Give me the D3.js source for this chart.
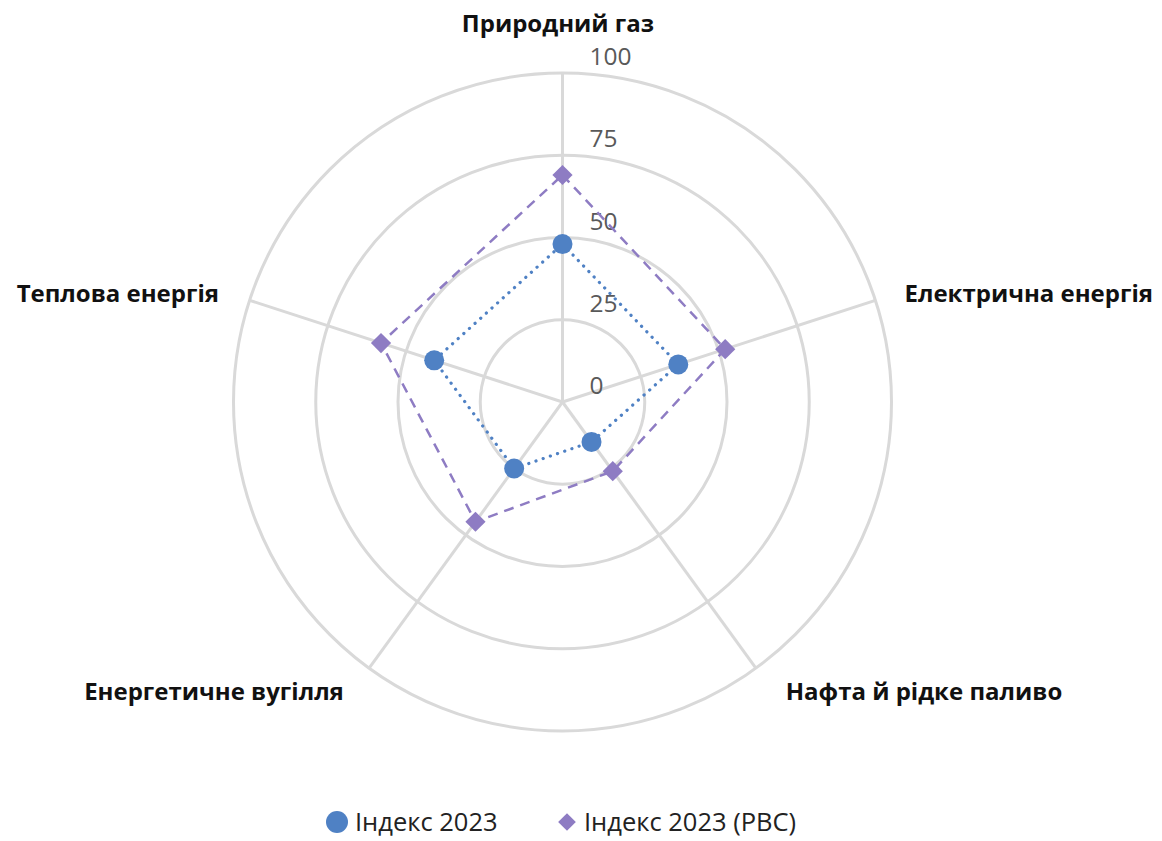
<!DOCTYPE html>
<html>
<head>
<meta charset="utf-8">
<script src="https://cdn.jsdelivr.net/npm/d3@7"></script>
<style>
  body { margin: 0; background: #fff; }
  svg { display: block; font-family: "Open Sans", "Noto Sans", sans-serif; }
</style>
</head>
<body>
<svg id="chart" width="1162" height="841"></svg>
<script>
// categories, clockwise from top
const categories = ["Природний газ", "Електрична енергія", "Нафта й рідке паливо", "Енергетичне вугілля", "Теплова енергія"];
const index2023 = [48, 37, 15, 25, 41];
const index2023rvs = [69, 52, 26, 45, 58];
const ticks = [0, 25, 50, 75, 100];
const seriesNames = ["Індекс 2023", "Індекс 2023 (РВС)"];

const svg = d3.select("#chart");
const cx = 562.5, cy = 402, R = 329;

const r = d3.scaleLinear().domain([0, 100]).range([0, R]);
const angle = d3.scaleLinear().domain([0, categories.length]).range([0, 2 * Math.PI]);
const pt = (i, v) => [cx + r(v) * Math.sin(angle(i)), cy - r(v) * Math.cos(angle(i))];

const grid = svg.append("g");
grid.selectAll("circle")
  .data(ticks.filter(t => t > 0))
  .enter().append("circle")
  .attr("cx", cx).attr("cy", cy)
  .attr("r", d => r(d))
  .attr("fill", "none").attr("stroke", "#d9d9d9").attr("stroke-width", 3);

grid.selectAll("line")
  .data(categories)
  .enter().append("line")
  .attr("x1", cx).attr("y1", cy)
  .attr("x2", (d, i) => pt(i, 100)[0])
  .attr("y2", (d, i) => pt(i, 100)[1])
  .attr("stroke", "#d9d9d9").attr("stroke-width", 3);

// tick labels
svg.append("g").selectAll("text")
  .data(ticks)
  .enter().append("text")
  .attr("x", cx + 27)
  .attr("y", d => cy - r(d) - 8)
  .attr("font-size", 24.5)
  .attr("fill", "#595959")
  .text(d => d);

// category labels
const labelPos = [
  { x: 558, y: 32, anchor: "middle" },
  { x: 1153, y: 302, anchor: "end" },
  { x: 924, y: 700, anchor: "middle" },
  { x: 214, y: 700, anchor: "middle" },
  { x: 219, y: 302, anchor: "end" }
];
svg.append("g").selectAll("text")
  .data(categories)
  .enter().append("text")
  .attr("x", (d, i) => labelPos[i].x)
  .attr("y", (d, i) => labelPos[i].y)
  .attr("text-anchor", (d, i) => labelPos[i].anchor)
  .attr("font-size", 24)
  .attr("font-weight", "bold")
  .attr("fill", "#111")
  .text(d => d);

const line = d3.line().curve(d3.curveLinearClosed);

// RVS series (dashed, diamonds)
svg.append("path")
  .attr("d", line(index2023rvs.map((v, i) => pt(i, v))))
  .attr("fill", "none").attr("stroke", "#8e7cc3")
  .attr("stroke-width", 2.5).attr("stroke-dasharray", "10,7");

// 2023 series (dotted, circles)
svg.append("path")
  .attr("d", line(index2023.map((v, i) => pt(i, v))))
  .attr("fill", "none").attr("stroke", "#4f81c4")
  .attr("stroke-width", 3.2).attr("stroke-linecap", "round")
  .attr("stroke-dasharray", "0.1,7.5");

const diamond = d3.symbol().type(d3.symbolDiamond2).size(260);
svg.append("g").selectAll("path")
  .data(index2023rvs)
  .enter().append("path")
  .attr("d", diamond)
  .attr("transform", (d, i) => `translate(${pt(i, d)})`)
  .attr("fill", "#8e7cc3");

svg.append("g").selectAll("circle")
  .data(index2023)
  .enter().append("circle")
  .attr("cx", (d, i) => pt(i, d)[0])
  .attr("cy", (d, i) => pt(i, d)[1])
  .attr("r", 10)
  .attr("fill", "#4f81c4");

// legend
const legend = svg.append("g").attr("font-size", 25.5).attr("fill", "#222");
legend.append("circle").attr("cx", 337).attr("cy", 822).attr("r", 11).attr("fill", "#4f81c4");
legend.append("text").attr("x", 355).attr("y", 831).text(seriesNames[0]);
legend.append("path").attr("d", d3.symbol().type(d3.symbolDiamond2).size(200))
  .attr("transform", "translate(567,822)").attr("fill", "#8e7cc3");
legend.append("text").attr("x", 584).attr("y", 831).text(seriesNames[1]);
</script>
</body>
</html>
